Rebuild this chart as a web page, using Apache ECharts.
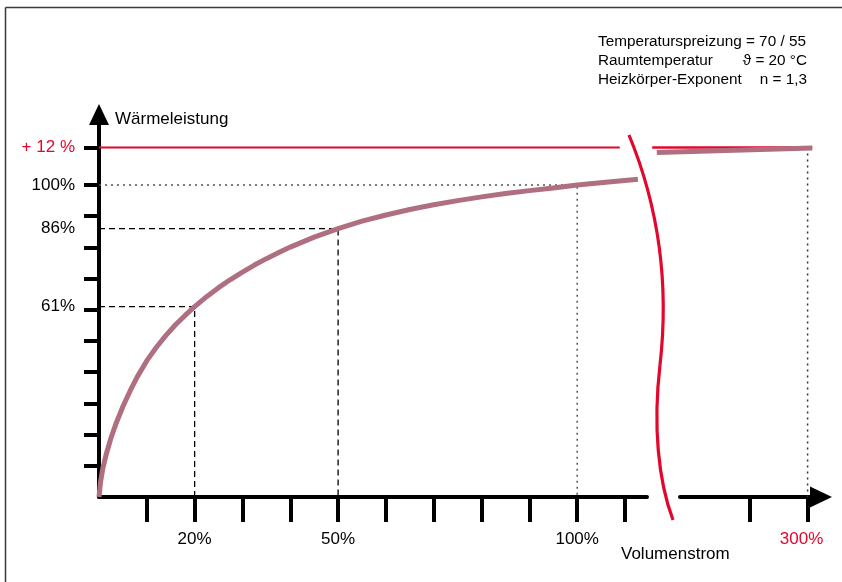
<!DOCTYPE html>
<html>
<head>
<meta charset="utf-8">
<script src="https://cdn.jsdelivr.net/npm/echarts@6/dist/echarts.min.js"></script>
<style>html,body{margin:0;padding:0;background:#fff}#c{width:842px;height:582px}</style>
</head>
<body>
<div id="c"></div>
<script>
// ---- data (percent of design values) ----
const flowMain = [0, 0.3, 0.8, 1.5, 2.5, 3.5, 5, 6.5, 8, 10, 12, 14, 16, 18, 20, 22.5, 25, 27.5, 30, 32.5, 35, 37.5, 40, 45, 50, 55, 60, 65, 70, 75, 80, 85, 90, 95, 100, 106, 112.7];
const heatMain = [0, 4.6, 9.2, 13.6, 18.9, 23.3, 29.0, 34.0, 38.5, 43.7, 48.0, 51.8, 55.2, 58.2, 61, 64.2, 67.1, 69.7, 72.1, 74.35, 76.4, 78.3, 80.1, 83.3, 86, 88.4, 90.4, 92.15, 93.65, 95.0, 96.2, 97.25, 98.2, 99.05, 100, 100.9, 101.85];
const flowHigh = [170, 304];
const heatHigh = [110.4, 111.9];
const limitLeftX = [0, 108.9];
const limitRightX = [166, 304];
const limitY = 112;
const yTicks = [10, 20, 30, 40, 50, 60, 70, 80, 90, 100, 112];
const yLabels = [61, 86, 100, 112];
const xTicksMain = [10, 20, 30, 40, 50, 60, 70, 80, 90, 100, 110];
const xLabelsMain = [20, 50, 100];
const xTicksHigh = [250, 300];
const xLabelsHigh = [300];
const dashedPts = [[20, 61], [50, 86]];
const dottedPts = [[100, 100]];
const dottedHigh = [[300, 112]];
const noteLeft = ['Temperaturspreizung = 70 / 55', 'Raumtemperatur', 'Heizkörper-Exponent'];
const noteRight = ['', 'ϑ = 20 °C', 'n = 1,3'];

const RED = '#e3062d';
const MAUVE = '#b06f80';
const FONT = '"Liberation Sans", Arial, "DejaVu Sans", sans-serif';

const zip = (a, b) => a.map((v, i) => [v, b[i]]);

const series = [];
dashedPts.forEach(p => {
  series.push({type: 'line', xAxisIndex: 0, yAxisIndex: 0, symbol: 'none', silent: true, z: 1,
    data: [[0, p[1]], [p[0], p[1]], [p[0], 0]],
    lineStyle: {color: '#000', width: 1.3, type: [6, 4]}});
});
dottedPts.forEach(p => {
  series.push({type: 'line', xAxisIndex: 0, yAxisIndex: 0, symbol: 'none', silent: true, z: 1,
    data: [[0, p[1]], [p[0], p[1]], [p[0], 0]],
    lineStyle: {color: '#555', width: 1.5, type: [2, 4]}});
});
dottedHigh.forEach(p => {
  series.push({type: 'line', xAxisIndex: 1, yAxisIndex: 1, symbol: 'none', silent: true, z: 1,
    data: [[p[0], p[1]], [p[0], 0]],
    lineStyle: {color: '#333', width: 1.5, type: [2, 4]}});
});
series.push({type: 'line', xAxisIndex: 0, yAxisIndex: 0, symbol: 'none', z: 2, clip: false,
  data: limitLeftX.map(x => [x, limitY]), lineStyle: {color: RED, width: 2}});
series.push({type: 'line', xAxisIndex: 1, yAxisIndex: 1, symbol: 'none', z: 2, clip: false,
  data: limitRightX.map(x => [x, limitY]), lineStyle: {color: RED, width: 2.5}});
series.push({type: 'line', xAxisIndex: 0, yAxisIndex: 0, symbol: 'none', z: 3, clip: false,
  data: zip(flowMain, heatMain), lineStyle: {color: MAUVE, width: 5, join: 'round'}});
series.push({type: 'line', xAxisIndex: 1, yAxisIndex: 1, symbol: 'none', z: 3, clip: false,
  data: zip(flowHigh, heatHigh), lineStyle: {color: MAUVE, width: 5}});

const NOTE_FONT = '15.3px ' + FONT;
const graphics = [
  {type: 'line', shape: {x1: 5.5, y1: 7.5, x2: 842, y2: 7.5}, style: {stroke: '#3a3a3a', lineWidth: 1.5}},
  {type: 'line', shape: {x1: 5.5, y1: 7.5, x2: 5.5, y2: 582}, style: {stroke: '#3a3a3a', lineWidth: 1.5}},
  {type: 'bezierCurve', shape: {x1: 629, y1: 135, cpx1: 662, cpy1: 215, cpx2: 668, cpy2: 295, x2: 660, y2: 365}, style: {stroke: RED, lineWidth: 3.2, fill: null}},
  {type: 'bezierCurve', shape: {x1: 660, y1: 365, cpx1: 653, cpy1: 425, cpx2: 658, cpy2: 480, x2: 673, y2: 520}, style: {stroke: RED, lineWidth: 3.2, fill: null}},
  {type: 'text', x: 115, y: 119, style: {text: 'Wärmeleistung', font: '17px ' + FONT, fill: '#000', textVerticalAlign: 'middle'}},
  {type: 'text', x: 621, y: 554, style: {text: 'Volumenstrom', font: '17px ' + FONT, fill: '#000', textVerticalAlign: 'middle'}}
];
noteLeft.forEach((t, i) => {
  graphics.push({type: 'text', x: 598, y: 42 + i * 19, style: {text: t, font: NOTE_FONT, fill: '#000', textVerticalAlign: 'middle'}});
});
noteRight.forEach((t, i) => {
  if (t) graphics.push({type: 'text', x: 807, y: 42 + i * 19, style: {text: t, font: NOTE_FONT, fill: '#000', textAlign: 'right', textVerticalAlign: 'middle'}});
});

// layout: y scale 3.12 px per %, main x 4.782 px per %, high-range x 1.16 px per %
const gridTop = 114.5, gridH = 382.5, yMax = 122.6;
const highMin = 166, highAxisMin = 190, highMax = 311.55;
const axisLineStyle = {color: '#000', width: 4};

const option = {
  animation: false,
  backgroundColor: '#fff',
  grid: [
    {left: 99, top: gridTop, width: 548, height: gridH},
    {left: 652.16, top: gridTop, width: 168.84, height: gridH},
    {left: 680, top: gridTop, width: 141, height: gridH}
  ],
  xAxis: [
    {gridIndex: 0, type: 'value', min: 0, max: 114.6,
      axisLine: {show: true, onZero: false, lineStyle: axisLineStyle},
      axisTick: {show: true, customValues: xTicksMain, length: 25, lineStyle: {color: '#000', width: 4}},
      axisLabel: {show: true, customValues: xLabelsMain, margin: 34, fontSize: 17, fontFamily: FONT, color: '#000', formatter: v => v + '%'},
      splitLine: {show: false}},
    {gridIndex: 1, type: 'value', min: highMin, max: highMax, show: false},
    {gridIndex: 2, type: 'value', min: highAxisMin, max: highMax,
      axisLine: {show: true, onZero: false, lineStyle: axisLineStyle, symbol: ['none', 'triangle'], symbolSize: [21, 22]},
      axisTick: {show: true, customValues: xTicksHigh, length: 25, lineStyle: {color: '#000', width: 4}},
      axisLabel: {show: true, customValues: xLabelsHigh, margin: 34, fontSize: 17, fontFamily: FONT, color: RED, padding: [0, 12, 0, 0], formatter: v => v + '%'},
      splitLine: {show: false}}
  ],
  yAxis: [
    {gridIndex: 0, type: 'value', min: 0, max: yMax,
      axisLine: {show: true, onZero: false, lineStyle: axisLineStyle, symbol: ['none', 'triangle'], symbolSize: [20, 21]},
      axisTick: {show: true, customValues: yTicks, length: 15, lineStyle: {color: '#000', width: 4}},
      axisLabel: {show: true, customValues: yLabels, margin: 24, fontSize: 17, fontFamily: FONT, color: '#000',
        formatter: v => v === limitY ? '{r|+ ' + (limitY - 100) + ' %}' : v + '%',
        rich: {r: {color: RED, fontSize: 17, fontFamily: FONT}}},
      splitLine: {show: false}},
    {gridIndex: 1, type: 'value', min: 0, max: yMax, show: false},
    {gridIndex: 2, type: 'value', min: 0, max: yMax, show: false}
  ],
  graphic: graphics,
  series: series
};

const chart = echarts.init(document.getElementById('c'), null, {renderer: 'canvas'});
chart.setOption(option);
</script>
</body>
</html>
